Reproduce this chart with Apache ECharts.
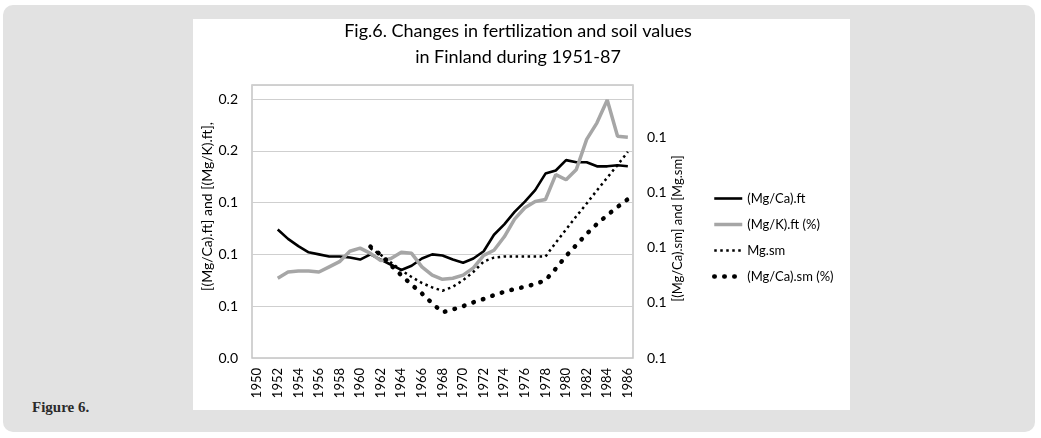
<!DOCTYPE html>
<html>
<head>
<meta charset="utf-8">
<script src="https://cdn.jsdelivr.net/npm/echarts@6/dist/echarts.min.js"></script>
<style>
  html, body { margin: 0; padding: 0; background: #ffffff; }
  #wrap { position: relative; width: 1041px; height: 438px; overflow: hidden; }
  #gray { position: absolute; left: 3px; top: 5px; width: 1032px; height: 427px; background: #e2e2e2; border-radius: 10px; }
  #panel { position: absolute; left: 193px; top: 19px; width: 657px; height: 391px; background: #ffffff; }
  #caption { position: absolute; left: 32px; top: 399px; font-family: "Liberation Serif", "DejaVu Serif", serif; font-weight: bold; font-size: 15px; color: #2b2b2b; }
  #chart { position: absolute; left: 0; top: 0; width: 1041px; height: 438px; }
</style>
</head>
<body>
<div id="wrap">
  <div id="gray"></div>
  <div id="panel"></div>
  <div id="caption">Figure 6.</div>
  <div id="chart"></div>
</div>
<script>
// ---- data ----
var years = ['1950','1951','1952','1953','1954','1955','1956','1957','1958','1959',
             '1960','1961','1962','1963','1964','1965','1966','1967','1968','1969',
             '1970','1971','1972','1973','1974','1975','1976','1977','1978','1979',
             '1980','1981','1982','1983','1984','1985','1986'];

// left axis
var mgCaFt = [null, null, 0.124, 0.115, 0.108, 0.102, 0.100, 0.098, 0.098, 0.097,
              0.095, 0.100, 0.095, 0.090, 0.085, 0.089, 0.096, 0.100, 0.099, 0.095,
              0.092, 0.096, 0.103, 0.119, 0.129, 0.141, 0.151, 0.162, 0.178, 0.181,
              0.191, 0.189, 0.189, 0.185, 0.185, 0.186, 0.185];
var mgKFt = [null, null, 0.077, 0.083, 0.084, 0.084, 0.083, 0.088, 0.093, 0.103,
             0.106, 0.101, 0.094, 0.096, 0.102, 0.101, 0.088, 0.080, 0.076, 0.077,
             0.080, 0.087, 0.099, 0.104, 0.117, 0.134, 0.145, 0.151, 0.153, 0.177,
             0.172, 0.182, 0.211, 0.227, 0.249, 0.214, 0.213];
// right axis
var mgSm = [null, null, null, null, null, null, null, null, null, null,
            null, 0.0799, 0.0787, 0.0773, 0.0759, 0.0747, 0.0736, 0.0728, 0.0722, 0.0729,
            0.0741, 0.0756, 0.0775, 0.0782, 0.0784, 0.0784, 0.0784, 0.0784, 0.0784, 0.0809,
            0.0833, 0.0857, 0.0880, 0.0904, 0.0927, 0.0950, 0.0974];
var mgCaSm = [null, null, null, null, null, null, null, null, null, null,
              null, 0.0802, 0.0787, 0.0768, 0.0750, 0.0733, 0.0717, 0.0699, 0.0683, 0.0688,
              0.0694, 0.0701, 0.0707, 0.0714, 0.0720, 0.0725, 0.0729, 0.0734, 0.0741, 0.0762,
              0.0785, 0.0805, 0.0825, 0.0843, 0.0859, 0.0874, 0.0888];

var seriesNames = ['(Mg/Ca).ft', '(Mg/K).ft (%)', 'Mg.sm', '(Mg/Ca).sm (%)'];
var leftTickLabels = ['0.0', '0.1', '0.1', '0.1', '0.2', '0.2'];
var rightTickLabels = ['0.1', '0.1', '0.1', '0.1', '0.1'];
var titleLines = ['Fig.6. Changes in fertilization and soil values', 'in Finland during 1951-87'];
var leftAxisName = '[(Mg/Ca).ft] and [(Mg/K).ft],';
var rightAxisName = '[(Mg/Ca).sm] and [Mg.sm]';

// ---- styles ----
var FONT = 'Lato, "Open Sans", sans-serif';
var lineStyles = [
  { color: '#000', width: 2.6 },
  { color: '#a6a6a6', width: 3.5 },
  { color: '#000', width: 2.5, type: [2.5, 3.5] },
  { color: '#000', width: 4.5, type: [0.5, 9.5], cap: 'round' }
];
var yAxisOf = [0, 0, 1, 1];
var seriesData = [mgCaFt, mgKFt, mgSm, mgCaSm];

var chart = echarts.init(document.getElementById('chart'), null, { renderer: 'canvas' });
chart.setOption({
  backgroundColor: 'transparent',
  animation: false,
  textStyle: { fontFamily: FONT, color: '#000' },
  title: {
    text: titleLines.join('\n'),
    left: 513, top: 13, textAlign: 'center',
    textStyle: { fontFamily: FONT, fontSize: 18, fontWeight: 'normal', color: '#000', lineHeight: 26 }
  },
  legend: {
    orient: 'vertical',
    left: 712, top: 192, padding: 0,
    itemWidth: 28, itemHeight: 14, itemGap: 13,
    data: seriesNames.map(function (n, i) {
      return { name: n, lineStyle: { width: lineStyles[i].width } };
    }),
    itemStyle: { opacity: 0 },
    textStyle: { fontFamily: FONT, fontSize: 13, color: '#000' }
  },
  grid: {
    left: 252, right: 408, top: 85, bottom: 80,
    show: true, borderColor: '#c4c4c4', borderWidth: 1.5, backgroundColor: 'transparent'
  },
  xAxis: {
    type: 'category',
    data: years,
    boundaryGap: true,
    axisLine: { show: false },
    axisTick: { show: false },
    axisLabel: { interval: 1, rotate: 90, margin: 10, fontSize: 13, color: '#000', fontFamily: FONT },
    splitLine: { show: false }
  },
  yAxis: [
    {
      type: 'value',
      min: 0, max: 0.2635, interval: 0.05,
      name: leftAxisName,
      nameLocation: 'middle', nameGap: 38, nameRotate: 90,
      nameTextStyle: { fontSize: 14, color: '#000', fontFamily: FONT, padding: [0, 0, 0, 30] },
      axisLine: { show: false }, axisTick: { show: false },
      axisLabel: {
        margin: 14, fontSize: 14, color: '#000', fontFamily: FONT,
        formatter: function (v, i) { return i < leftTickLabels.length ? leftTickLabels[i] : ''; }
      },
      splitLine: { show: true, lineStyle: { color: '#cfcfcf', width: 1 } }
    },
    {
      type: 'value',
      min: 0.06, max: 0.1095, interval: 0.01,
      name: rightAxisName,
      nameLocation: 'middle', nameGap: 38, nameRotate: 90,
      nameTextStyle: { fontSize: 13, color: '#000', fontFamily: FONT, padding: [0, 14, 0, 0] },
      axisLine: { show: false }, axisTick: { show: false },
      axisLabel: {
        margin: 14, fontSize: 14, color: '#000', fontFamily: FONT,
        formatter: function (v, i) { return i < rightTickLabels.length ? rightTickLabels[i] : ''; }
      },
      splitLine: { show: false }
    }
  ],
  series: seriesNames.map(function (n, i) {
    return {
      name: n, type: 'line', yAxisIndex: yAxisOf[i], data: seriesData[i],
      symbol: 'none',
      lineStyle: lineStyles[i],
      itemStyle: { color: lineStyles[i].color }
    };
  })
});
</script>
</body>
</html>
